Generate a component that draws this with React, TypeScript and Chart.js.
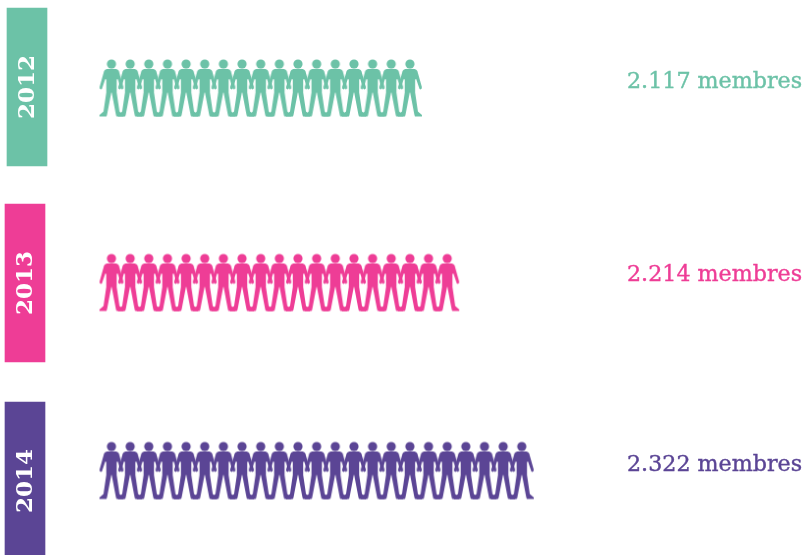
import React, { useEffect, useRef } from "react";
import { Chart, registerables } from "chart.js";

Chart.register(...registerables);

const years = ["2012", "2013", "2014"];
const memberLabels = ["2.117 membres", "2.214 membres", "2.322 membres"];
const iconCounts = [17, 19, 23];
const colors = ["#6cc2a7", "#ee3d96", "#5b4595"];

// layout (pixel-unit axes)
const WIDTH = 809;
const HEIGHT = 555;
const ICON_ROW_Y = [88, 282.5, 470.5];
const BAND_Y = [87, 283, 481];
const BAND_X: [number, number][] = [[7, 47], [5, 45], [5, 45]];
const TEXT_Y = [82, 275, 465];
const TEXT_X = 627;
const FIRST_ICON_X = 111.5;
const ICON_STEP = 18.65;

function personIcon(color: string): HTMLCanvasElement {
  const c = document.createElement("canvas");
  c.width = 28;
  c.height = 60;
  const g = c.getContext("2d")!;
  g.translate(14, 1.5);
  g.fillStyle = color;
  g.beginPath();
  g.arc(0, 4.5, 4.6, 0, Math.PI * 2);
  g.fill();
  const half = (s: number) => {
    g.lineTo(s * 4.6, 9.4);
    g.quadraticCurveTo(s * 6.6, 9.6, s * 7.4, 11.5);
    g.lineTo(s * 11.9, 27.6);
    g.quadraticCurveTo(s * 12.2, 30, s * 10.4, 30);
    g.lineTo(s * 9.6, 29.4);
    g.lineTo(s * 6.2, 19.5);
    g.lineTo(s * 5.2, 20);
    g.lineTo(s * 5.2, 33);
    g.lineTo(s * 8, 52);
    g.lineTo(s * 12, 55.6);
    g.lineTo(s * 12, 57);
    g.lineTo(s * 5, 57);
    g.lineTo(s * 4.4, 55);
    g.lineTo(s * 0.2, 33);
  };
  g.beginPath();
  g.moveTo(0, 9.2);
  half(-1);
  g.lineTo(0, 33);
  g.closePath();
  g.fill();
  g.beginPath();
  g.moveTo(0, 9.2);
  half(1);
  g.lineTo(0, 33);
  g.closePath();
  g.fill();
  return c;
}

const labelPlugin = {
  id: "rowLabels",
  afterDatasetsDraw(chart: any) {
    const { ctx, scales } = chart;
    ctx.save();
    years.forEach((year, i) => {
      ctx.save();
      ctx.translate(scales.px.getPixelForValue((BAND_X[i][0] + BAND_X[i][1]) / 2) + 1, scales.y.getPixelForValue(BAND_Y[i]));
      ctx.rotate(-Math.PI / 2);
      ctx.fillStyle = "#ffffff";
      ctx.font = 'bold 23px "DejaVu Serif"';
      ctx.textAlign = "center";
      ctx.textBaseline = "middle";
      ctx.fillText(year, 0, 0);
      ctx.restore();
      ctx.fillStyle = colors[i];
      ctx.strokeStyle = colors[i];
      ctx.lineWidth = 0.4;
      ctx.font = '22.2px "DejaVu Serif"';
      ctx.textAlign = "left";
      ctx.textBaseline = "middle";
      const tx = scales.px.getPixelForValue(TEXT_X);
      const ty = scales.y.getPixelForValue(TEXT_Y[i]);
      ctx.fillText(memberLabels[i], tx, ty);
      ctx.strokeText(memberLabels[i], tx, ty);
    });
    ctx.restore();
  },
};

export default function App() {
  const ref = useRef<HTMLCanvasElement>(null);
  useEffect(() => {
    const chart = new Chart(ref.current!, {
      type: "bar",
      plugins: [labelPlugin],
      data: {
        datasets: [
          ...years.map((year, r) => ({
            type: "scatter",
            label: year,
            xAxisID: "x",
            yAxisID: "y",
            data: Array.from({ length: iconCounts[r] }, (_, i) => ({ x: i + 1, y: ICON_ROW_Y[r] })),
            pointStyle: personIcon(colors[r]),
            pointRadius: 12,
            showLine: false,
            clip: false,
          })),
          {
            type: "bar",
            label: "Année",
            indexAxis: "y",
            xAxisID: "px",
            yAxisID: "y",
            data: years.map((_, i) => ({ x: BAND_X[i], y: BAND_Y[i] })),
            backgroundColor: colors,
            borderWidth: 0,
            barThickness: 158,
            grouped: false,
          },
        ],
      } as any,
      options: {
        responsive: false,
        animation: false,
        layout: { padding: 0, autoPadding: false },
        plugins: { legend: { display: false }, tooltip: { enabled: false } },
        scales: {
          x: {
            type: "linear",
            display: false,
            offset: false,
            min: 1 - FIRST_ICON_X / ICON_STEP,
            max: 1 + (WIDTH - FIRST_ICON_X) / ICON_STEP,
          },
          px: { axis: "x", type: "linear", display: false, offset: false, min: 0, max: WIDTH },
          y: { type: "linear", display: false, offset: false, min: 0, max: HEIGHT, reverse: true },
        },
      } as any,
    });
    return () => chart.destroy();
  }, []);
  return (
    <div style={{ position: "absolute", left: 0, top: 0, width: WIDTH, height: HEIGHT, background: "#fff" }}>
      <canvas ref={ref} width={WIDTH} height={HEIGHT} style={{ display: "block" }} />
    </div>
  );
}
